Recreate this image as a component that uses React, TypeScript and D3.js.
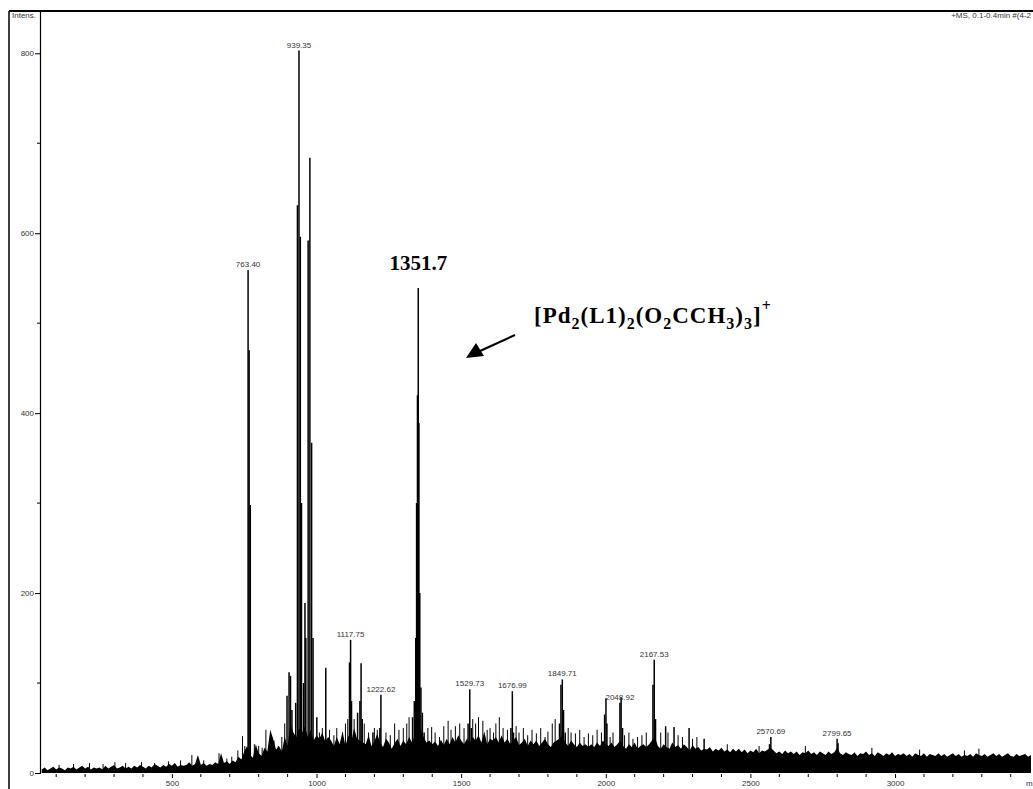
import React, { useEffect, useRef } from 'react';
import * as d3 from 'd3';

// noise floor of the spectrum, read every 10 m/z starting at 50
const floorStart = 50;
const floorStep = 10;
const floorValues = [
  4, 6, 3, 5, 7, 4, 6, 5, 3, 6,
  5, 7, 4, 6, 8, 5, 7, 4, 6, 5,
  6, 4, 8, 5, 7, 9, 5, 6, 8, 5,
  7, 5, 8, 6, 9, 7, 5, 8, 6, 10,
  8, 6, 9, 7, 10, 8, 11, 7, 9, 8,
  9, 12, 8, 10, 20, 9, 11, 8, 10, 9,
  12, 10, 22, 11, 13, 10, 14, 12, 18, 15,
  24, 30, 20, 17, 32, 22, 19, 28, 24, 48,
  38, 26, 30, 24, 40, 30, 55, 45, 40, 50,
  45, 52, 40, 48, 36, 42, 38, 45, 35, 40,
  36, 30, 40, 32, 46, 30, 42, 34, 50, 38,
  36, 34, 32, 42, 30, 35, 44, 33, 29, 38,
  34, 27, 33, 38, 30, 36, 32, 40, 34, 42,
  58, 48, 40, 34, 36, 32, 35, 30, 37, 31,
  38, 32, 40, 34, 42, 36, 32, 38, 34, 40,
  36, 42, 34, 46, 32, 38, 36, 40, 34, 42,
  34, 38, 32, 36, 40, 31, 34, 38, 30, 36,
  32, 36, 30, 34, 38, 32, 29, 34, 36, 38,
  42, 34, 30, 36, 32, 29, 34, 30, 32, 29,
  32, 29, 34, 30, 36, 32, 30, 34, 29, 32,
  36, 30, 27, 32, 29, 34, 27, 30, 32, 29,
  32, 36, 40, 30, 27, 32, 29, 27, 34, 29,
  31, 27, 32, 29, 25, 31, 27, 29, 25, 27,
  26, 29, 24, 27, 25, 28, 24, 26, 23, 27,
  24, 27, 23, 26, 22, 25, 23, 27, 22, 25,
  24, 26, 28, 25, 22, 24, 21, 25, 22, 24,
  21, 24, 20, 23, 22, 25, 21, 23, 20, 24,
  22, 20, 24, 21, 23, 28, 22, 20, 23, 21,
  20, 23, 19, 22, 21, 24, 20, 22, 19, 23,
  21, 19, 22, 20, 23, 19, 21, 20, 22, 19,
  21, 18, 22, 20, 19, 22, 18, 21, 20, 19,
  22, 19, 21, 18, 20, 22, 19, 21, 18, 20,
  19, 21, 18, 22, 20, 19, 21, 18, 20, 22,
  19, 21, 18, 20, 22, 19, 18, 21, 19, 20,
  21, 18, 20,
];

// small noise spikes [m/z, intensity]
const noiseSpikes: [number, number][] = [
  [110, 9], [160, 10], [215, 11], [262, 10], [303, 12], [340, 11], [395, 12], [440, 11],
  [488, 13], [530, 14], [569, 20], [610, 14], [663, 22], [690, 16], [707, 18],
  [728, 25], [744, 41], [752, 30], [785, 32], [800, 30], [812, 28], [825, 48], [840, 38],
  [853, 36], [868, 30], [880, 40], [890, 55],
  [1010, 45], [1020, 50], [1045, 48], [1060, 42], [1070, 50], [1090, 45], [1100, 55],
  [1108, 60], [1130, 60], [1165, 55], [1180, 45], [1200, 50], [1210, 48], [1240, 45],
  [1255, 42], [1270, 55], [1285, 48], [1300, 50], [1312, 55], [1320, 62],
  [1385, 50], [1398, 51], [1410, 45], [1425, 40], [1440, 52], [1455, 58], [1465, 48],
  [1480, 52], [1495, 55], [1510, 50], [1540, 60], [1550, 55], [1560, 62], [1575, 58],
  [1590, 48], [1600, 50], [1612, 45], [1620, 55], [1632, 62], [1645, 50], [1660, 48],
  [1690, 52], [1700, 45], [1715, 50], [1730, 42], [1745, 48], [1760, 44], [1775, 50],
  [1790, 40], [1800, 46], [1815, 55], [1825, 60], [1870, 50], [1880, 45], [1895, 44],
  [1910, 48], [1925, 40], [1940, 44], [1955, 42], [1970, 48], [1985, 45],
  [2015, 40], [2025, 45], [2065, 42], [2080, 45], [2094, 38], [2110, 40], [2125, 42],
  [2140, 45], [2190, 45], [2215, 45], [2250, 42], [2265, 40], [2300, 38], [2315, 40],
  [2420, 32], [2530, 30], [2690, 30], [2920, 28], [3085, 26], [3240, 25], [3290, 27],
];

// main peaks [m/z, intensity]
const peaks: [number, number][] = [
  [763.4, 559], [767, 470], [771, 298],
  [898, 86], [905, 112], [910, 108], [915, 70], [928, 78],
  [934, 631], [939.35, 803], [944, 596], [948, 300], [955, 100], [960, 189], [963, 150],
  [971, 592], [977, 684], [983, 367], [988, 150], [1001, 62], [1032, 117],
  [1114, 123], [1117.75, 148], [1121, 80], [1142, 67], [1150, 80], [1154, 122], [1158, 60],
  [1195, 45], [1219, 50], [1222.62, 87],
  [1332, 62], [1338, 80], [1343, 150], [1346, 300], [1349, 420], [1351.7, 539], [1354, 389],
  [1357, 200], [1361, 95], [1366, 67], [1372, 45],
  [1524, 55], [1529.73, 93], [1535, 50], [1672, 50], [1676.99, 91], [1681, 45],
  [1840, 55], [1845, 98], [1849.71, 104], [1854, 70], [1860, 45],
  [1996, 65], [2000.7, 83], [2004, 55], [2048.92, 78], [2053, 84], [2058, 50],
  [2163, 98], [2167.53, 126], [2172, 60], [2207, 52], [2236, 51], [2288, 50], [2340, 38],
  [2566, 32], [2570.69, 40], [2799.65, 38], [2803, 33],
];

const peakLabels = [763.4, 939.35, 1117.75, 1222.62, 1529.73, 1676.99, 1849.71, 2048.92, 2167.53, 2570.69, 2799.65];
const peakLabelText = ['763.40', '939.35', '1117.75', '1222.62', '1529.73', '1676.99', '1849.71', '2048.92', '2167.53', '2570.69', '2799.65'];

const yTicks = [0, 200, 400, 600, 800];
const yMinorTicks = [100, 300, 500, 700];
const xTicks = [500, 1000, 1500, 2000, 2500, 3000];

const App: React.FC = () => {
  const ref = useRef<SVGSVGElement | null>(null);

  useEffect(() => {
    document.body.style.margin = '0';
    const width = 1033;
    const height = 789;
    const svg = d3.select(ref.current).attr('width', width).attr('height', height);
    svg.selectAll('*').remove();

    const x = d3.scaleLinear().domain([44, 3477]).range([40, 1033]);
    const y = d3.scaleLinear().domain([0, 847]).range([773, 11]);
    const sans = 'Liberation Sans, Arial, sans-serif';

    const floorData = floorValues.map((v, i) => [floorStart + i * floorStep, v] as [number, number]);
    const area = d3
      .area<[number, number]>()
      .x((d) => x(d[0]))
      .y0(y(0))
      .y1((d) => y(d[1]));

    svg.append('path').datum(floorData).attr('d', area).attr('fill', '#000');

    svg
      .append('g')
      .selectAll('line')
      .data(noiseSpikes)
      .enter()
      .append('line')
      .attr('x1', (d) => x(d[0]))
      .attr('x2', (d) => x(d[0]))
      .attr('y1', y(0))
      .attr('y2', (d) => y(d[1]))
      .attr('stroke', '#000')
      .attr('stroke-width', 1);

    svg
      .append('g')
      .selectAll('line')
      .data(peaks)
      .enter()
      .append('line')
      .attr('x1', (d) => x(d[0]))
      .attr('x2', (d) => x(d[0]))
      .attr('y1', y(0))
      .attr('y2', (d) => y(d[1]))
      .attr('stroke', '#000')
      .attr('stroke-width', 1.5);

    // peak labels
    svg
      .append('g')
      .selectAll('text')
      .data(peakLabels)
      .enter()
      .append('text')
      .attr('x', (d) => x(d))
      .attr('y', (d) => y(peaks.find((p) => p[0] === d)![1]) - 3)
      .attr('text-anchor', 'middle')
      .attr('font-family', sans)
      .attr('font-size', 8)
      .attr('fill', '#333')
      .text((d, i) => peakLabelText[i]);

    // axes
    const yAxis = d3.axisLeft(y).tickValues(yTicks).tickSize(5).tickPadding(1);
    const gy = svg.append('g').attr('transform', 'translate(40,0)').call(yAxis);
    gy.select('.domain').attr('stroke', '#000').attr('stroke-width', 1.2);
    gy.selectAll('text').attr('font-family', sans).attr('font-size', 8).attr('fill', '#333');

    svg
      .append('g')
      .selectAll('line')
      .data(yMinorTicks)
      .enter()
      .append('line')
      .attr('x1', 37)
      .attr('x2', 40)
      .attr('y1', (d) => y(d))
      .attr('y2', (d) => y(d))
      .attr('stroke', '#000');

    const xAxis = d3.axisBottom(x).tickValues(xTicks).tickSize(4).tickPadding(2).tickFormat(d3.format('d'));
    const gx = svg.append('g').attr('transform', 'translate(0,774)').call(xAxis);
    gx.select('.domain').remove();
    gx.selectAll('text').attr('font-family', sans).attr('font-size', 8).attr('fill', '#333');

    svg
      .append('g')
      .selectAll('line')
      .data(d3.range(100, 3477, 100).filter((d) => d % 500 !== 0))
      .enter()
      .append('line')
      .attr('x1', (d) => x(d))
      .attr('x2', (d) => x(d))
      .attr('y1', 774)
      .attr('y2', 777)
      .attr('stroke', '#000');

    svg
      .append('text')
      .attr('x', 1026)
      .attr('y', 786)
      .attr('font-family', sans)
      .attr('font-size', 8)
      .attr('fill', '#333')
      .text('m');

    // frame
    svg.append('line').attr('x1', 9).attr('x2', width).attr('y1', 11).attr('y2', 11).attr('stroke', '#000').attr('stroke-width', 2);
    svg.append('line').attr('x1', 9).attr('x2', 9).attr('y1', 11).attr('y2', height).attr('stroke', '#000').attr('stroke-width', 1.5);

    svg
      .append('text')
      .attr('x', 12)
      .attr('y', 18)
      .attr('font-family', sans)
      .attr('font-size', 8)
      .attr('fill', '#333')
      .text('Intens.');

    svg
      .append('text')
      .attr('x', 1031)
      .attr('y', 18)
      .attr('text-anchor', 'end')
      .attr('font-family', sans)
      .attr('font-size', 8)
      .attr('fill', '#333')
      .text('+MS, 0.1-0.4min #(4-2');

    // annotations
    const serif = 'Liberation Serif, Times New Roman, serif';
    svg
      .append('text')
      .attr('x', x(1351.7))
      .attr('y', 270)
      .attr('text-anchor', 'middle')
      .attr('font-family', serif)
      .attr('font-weight', 'bold')
      .attr('font-size', 21)
      .text('1351.7');

    const formula: [string, number][] = [
      ['[Pd', 0], ['2', 1], ['(L1)', 0], ['2', 1], ['(O', 0], ['2', 1], ['CCH', 0], ['3', 1],
      [')', 0], ['3', 1], [']', 0], ['+', -1],
    ];
    const ft = svg
      .append('text')
      .attr('x', 534)
      .attr('y', 323)
      .attr('font-family', serif)
      .attr('font-weight', 'bold')
      .attr('font-size', 23)
      .attr('letter-spacing', 1);
    let shift = 0;
    formula.forEach(([t, s]) => {
      const target = s === 1 ? 6 : s === -1 ? -12 : 0;
      ft.append('tspan')
        .attr('dy', target - shift)
        .attr('font-size', s === 0 ? 23 : 16)
        .text(t);
      shift = target;
    });

    // arrow
    svg.append('line').attr('x1', 515).attr('y1', 335).attr('x2', 480).attr('y2', 351).attr('stroke', '#000').attr('stroke-width', 2);
    svg.append('path').attr('d', 'M466,358 L476,343 L484,356 Z').attr('fill', '#000');
  }, []);

  return <svg ref={ref} style={{ display: 'block' }} />;
};

export default App;
